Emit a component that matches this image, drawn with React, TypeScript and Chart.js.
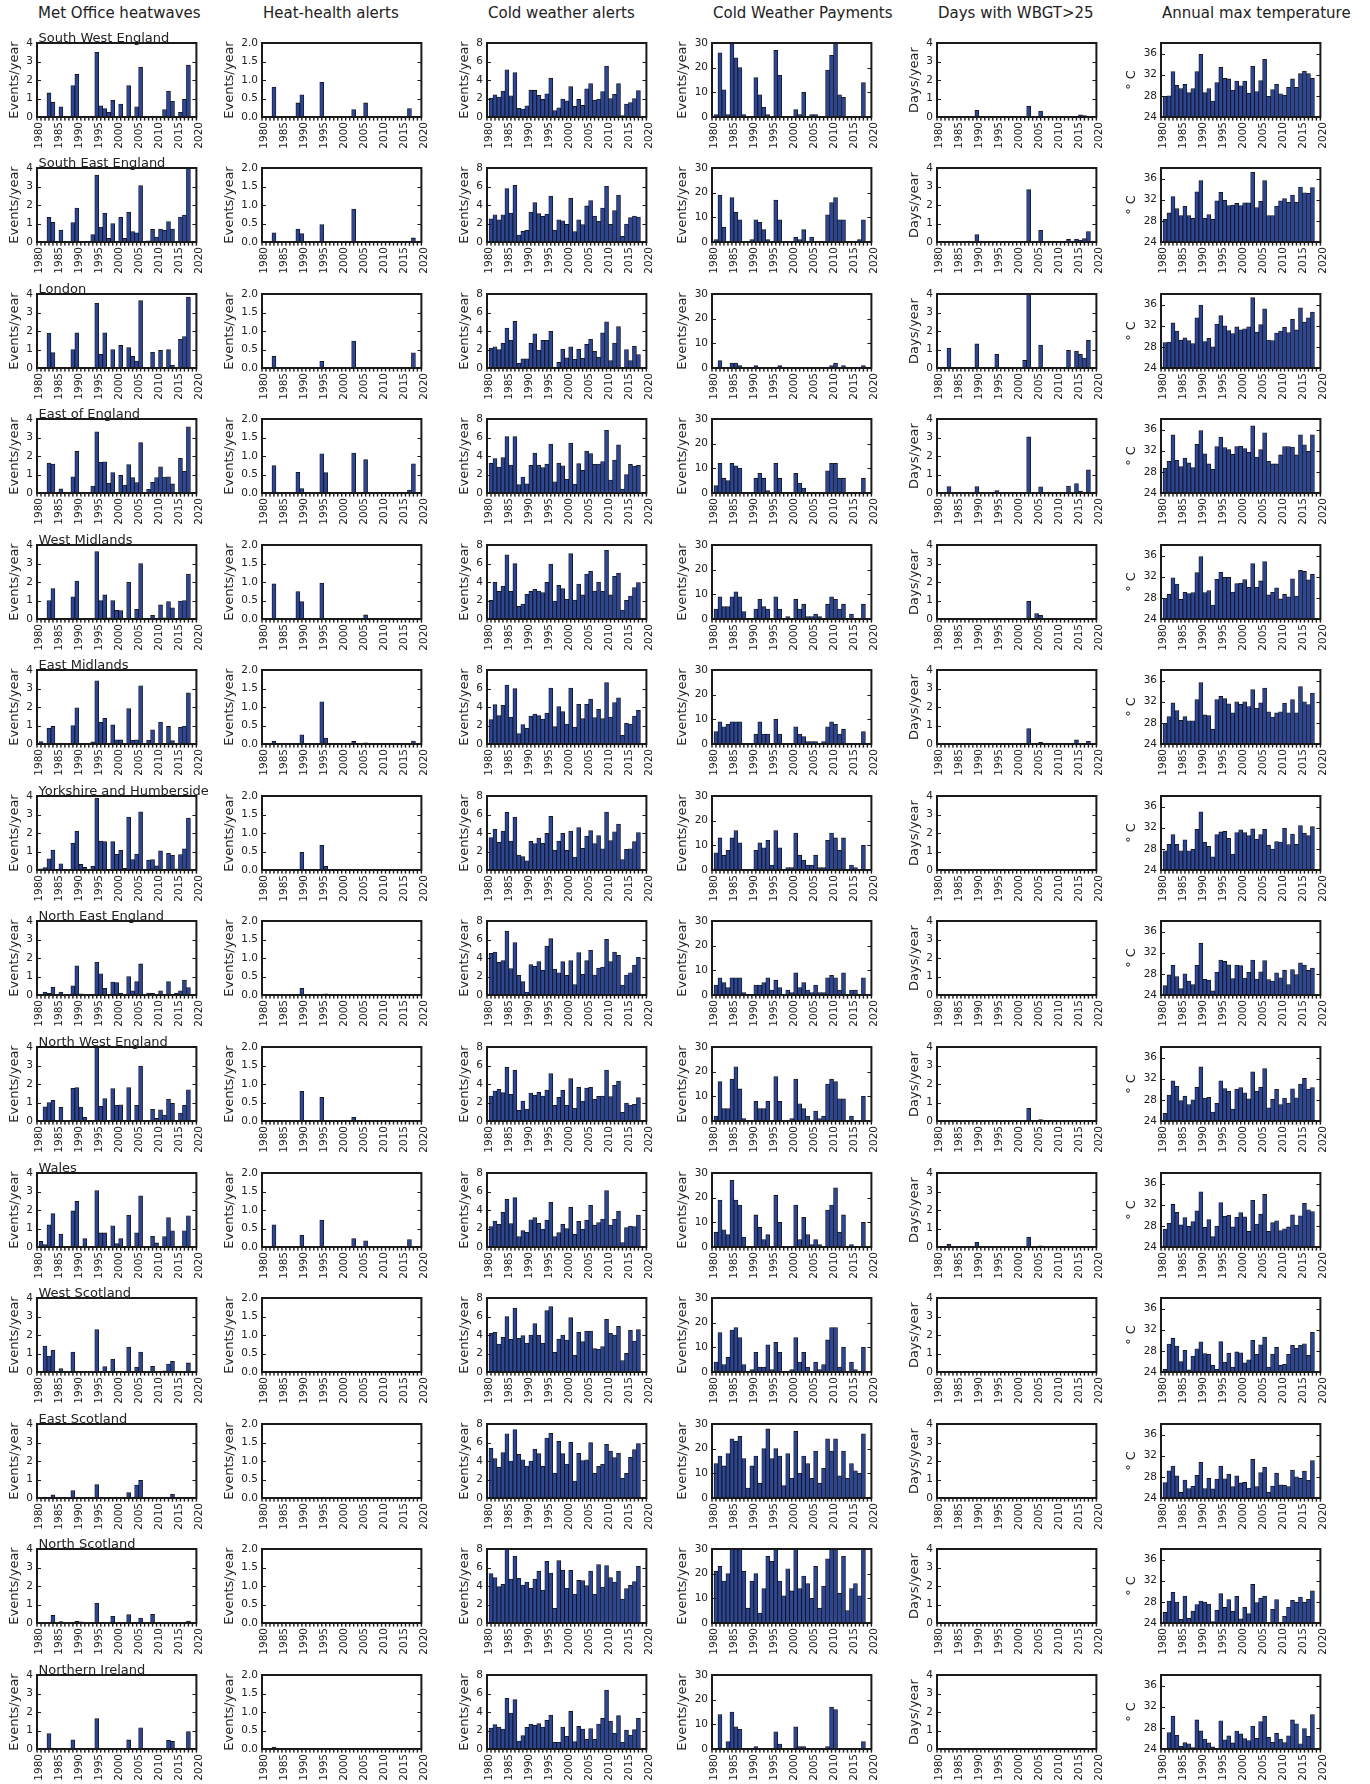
import React, { useEffect, useRef } from 'react';
import { Chart, registerables } from 'chart.js';

Chart.register(...registerables);

// ---------------- data ----------------
const years = [1981, 1982, 1983, 1984, 1985, 1986, 1987, 1988, 1989, 1990,
  1991, 1992, 1993, 1994, 1995, 1996, 1997, 1998, 1999, 2000,
  2001, 2002, 2003, 2004, 2005, 2006, 2007, 2008, 2009, 2010,
  2011, 2012, 2013, 2014, 2015, 2016, 2017, 2018];

const xTickYears = [1980, 1985, 1990, 1995, 2000, 2005, 2010, 2015, 2020];

const regions = ['South West England', 'South East England', 'London', 'East of England',
  'West Midlands', 'East Midlands', 'Yorkshire and Humberside', 'North East England',
  'North West England', 'Wales', 'West Scotland', 'East Scotland', 'North Scotland', 'Northern Ireland'];

const columnTitles = ['Met Office heatwaves', 'Heat-health alerts', 'Cold weather alerts',
  'Cold Weather Payments', 'Days with WBGT>25', 'Annual max temperature'];

const yAxisTitles = ['Events/year', 'Events/year', 'Events/year', 'Events/year', 'Days/year', '\u00b0 C'];

const yTicksHeatwaves = [0, 1, 2, 3, 4];
const yTicksHeatHealth = [0, 0.5, 1, 1.5, 2];
const yTicksColdAlerts = [0, 2, 4, 6, 8];
const yTicksPayments = [0, 10, 20, 30];
const yTicksWbgt = [0, 1, 2, 3, 4];
const yTicksMaxTemp = [24, 28, 32, 36];

const noEvents = [0, 0, 0, 0, 0, 0, 0, 0, 0, 0, 0, 0, 0, 0, 0, 0, 0, 0, 0, 0,
  0, 0, 0, 0, 0, 0, 0, 0, 0, 0, 0, 0, 0, 0, 0, 0, 0, 0];

const heatwaves = [
  [0, 0, 1.3, 0.8, 0, 0.55, 0, 0, 1.7, 2.3, 0, 0.05, 0, 0.05, 3.5, 0.6, 0.45, 0.25, 0.9, 0, 0.7, 0, 1.7, 0.05, 0.55, 2.7, 0, 0, 0.05, 0.05, 0, 0.4, 1.4, 0.85, 0, 0.25, 0.95, 2.8],
  [0, 0, 1.33, 1.06, 0, 0.65, 0, 0, 1.05, 1.84, 0, 0, 0, 0.4, 3.62, 0.81, 1.55, 0.2, 1.0, 0, 1.33, 0.2, 1.62, 0.56, 0.5, 3.05, 0, 0.07, 0.68, 0.27, 0.7, 0.63, 1.1, 0.7, 0, 1.35, 1.46, 4.0],
  [0, 0, 1.89, 0.83, 0, 0.03, 0, 0, 1.0, 1.9, 0, 0, 0, 0, 3.5, 0.74, 1.9, 0, 1.0, 0, 1.22, 0, 1.1, 0.63, 0.38, 3.64, 0, 0, 0.85, 0, 0.95, 0, 1.0, 0.16, 0, 1.55, 1.7, 3.84],
  [0, 0, 1.62, 1.57, 0, 0.23, 0, 0, 0.88, 2.25, 0.05, 0, 0, 0.38, 3.31, 1.66, 1.69, 0.54, 1.1, 0, 0.95, 0.43, 1.53, 0.83, 0.56, 2.72, 0, 0.2, 0.58, 0.83, 1.42, 0.86, 0.88, 0.49, 0.04, 1.87, 1.17, 3.58],
  [0, 0, 1.0, 1.64, 0, 0, 0, 0, 1.2, 2.05, 0, 0, 0, 0, 3.64, 0.99, 1.3, 0.07, 1.0, 0.47, 0.45, 0, 2.0, 0, 0.52, 3.0, 0, 0, 0.2, 0, 0.76, 0.07, 0.94, 0.6, 0, 0.97, 1.0, 2.43],
  [0.13, 0, 0.85, 0.95, 0, 0.05, 0, 0, 1.0, 1.96, 0.03, 0, 0, 0.12, 3.42, 1.17, 1.39, 0.05, 1.03, 0.23, 0.22, 0, 1.91, 0.2, 0.23, 3.15, 0, 0.2, 0.77, 0, 1.19, 0, 0.95, 0.18, 0, 0.9, 0.97, 2.77],
  [0.07, 0.13, 0.6, 1.08, 0, 0.34, 0, 0, 1.44, 2.1, 0.3, 0.14, 0, 0.2, 3.89, 1.57, 1.53, 0, 1.53, 0.85, 1.06, 0.09, 2.86, 0.56, 0.86, 3.15, 0, 0.54, 0.56, 0.22, 1.03, 0, 0.9, 0.79, 0.07, 0.83, 1.14, 2.81],
  [0, 0.16, 0.09, 0.43, 0, 0.16, 0, 0, 0.5, 1.58, 0.07, 0, 0, 0, 1.78, 1.15, 0.36, 0, 0.7, 0.67, 0.11, 0, 1.0, 0.23, 0.72, 1.68, 0, 0.11, 0.09, 0, 0.23, 0, 0.72, 0, 0.11, 0.23, 0.81, 0.4],
  [0, 0.77, 1.0, 1.12, 0, 0.74, 0, 0, 1.77, 1.8, 0.74, 0.2, 0, 0, 4.0, 0.79, 1.21, 0, 1.75, 0.85, 0.88, 0, 1.8, 0, 0.85, 2.97, 0, 0, 0.63, 0.14, 0.61, 0.32, 1.19, 0.95, 0, 0.43, 0.85, 1.69],
  [0.3, 0.13, 1.2, 1.8, 0, 0.7, 0, 0, 1.95, 2.47, 0.05, 0.45, 0, 0, 3.05, 0.76, 0.76, 0.05, 1.15, 0.18, 0.45, 0, 1.73, 0, 0.77, 2.77, 0, 0, 0.58, 0.22, 0, 0.56, 1.59, 0.88, 0, 0.05, 0.88, 1.69],
  [0, 1.4, 0.86, 1.17, 0, 0.18, 0, 0, 1.08, 0, 0.02, 0, 0, 0, 2.29, 0, 0.29, 0, 0.7, 0, 0, 0, 1.35, 0, 0.27, 1.08, 0, 0, 0.31, 0, 0, 0.07, 0.43, 0.58, 0, 0, 0, 0.49],
  [0, 0.05, 0, 0.17, 0, 0, 0, 0, 0.4, 0, 0, 0, 0, 0, 0.72, 0, 0, 0, 0.03, 0, 0, 0, 0.29, 0, 0.7, 0.95, 0, 0, 0.02, 0, 0, 0, 0.05, 0.2, 0, 0, 0, 0.02],
  [0, 0.02, 0.04, 0.42, 0, 0.08, 0, 0, 0.03, 0.09, 0.06, 0, 0, 0, 1.06, 0, 0, 0, 0.36, 0, 0, 0, 0.45, 0, 0, 0.27, 0, 0, 0.47, 0, 0, 0, 0, 0.02, 0, 0, 0, 0.11],
  [0, 0, 0.83, 0.05, 0, 0, 0, 0, 0.5, 0, 0, 0, 0, 0, 1.64, 0, 0, 0, 0, 0, 0, 0, 0.49, 0, 0, 1.15, 0, 0, 0, 0, 0, 0, 0.47, 0.41, 0, 0, 0, 0.94],
];

const heatHealthAlerts = [
  [0, 0, 0.81, 0, 0, 0, 0, 0, 0.38, 0.6, 0, 0, 0, 0, 0.94, 0, 0, 0, 0.01, 0, 0, 0, 0.2, 0, 0, 0.38, 0, 0, 0, 0, 0, 0, 0, 0, 0, 0, 0.23, 0],
  [0, 0, 0.25, 0, 0, 0, 0, 0, 0.35, 0.23, 0, 0, 0, 0, 0.47, 0, 0, 0, 0, 0, 0, 0, 0.89, 0, 0, 0, 0, 0, 0, 0, 0, 0, 0, 0, 0, 0, 0, 0.11],
  [0, 0, 0.32, 0, 0, 0, 0, 0, 0, 0, 0, 0, 0, 0, 0.18, 0, 0, 0, 0, 0, 0, 0, 0.73, 0, 0, 0, 0, 0, 0, 0, 0, 0, 0, 0, 0, 0, 0, 0.41],
  [0, 0, 0.74, 0, 0, 0, 0, 0, 0.56, 0.12, 0, 0, 0, 0, 1.06, 0.55, 0, 0, 0, 0, 0, 0, 1.08, 0, 0, 0.9, 0, 0, 0, 0, 0, 0.02, 0, 0, 0, 0.02, 0.08, 0.79],
  [0, 0, 0.95, 0, 0, 0, 0, 0, 0.74, 0.47, 0, 0, 0, 0, 0.97, 0, 0, 0, 0, 0, 0, 0, 0, 0, 0, 0.11, 0, 0, 0, 0, 0, 0, 0, 0, 0, 0, 0, 0],
  [0, 0, 0.08, 0, 0, 0, 0, 0, 0, 0.25, 0, 0, 0, 0, 1.14, 0.16, 0, 0, 0, 0, 0, 0, 0.07, 0, 0, 0.03, 0, 0, 0, 0, 0, 0, 0, 0, 0, 0, 0, 0.08],
  [0, 0, 0, 0, 0, 0, 0, 0, 0, 0.48, 0, 0, 0, 0, 0.67, 0.1, 0, 0, 0, 0, 0, 0, 0, 0, 0, 0, 0, 0, 0, 0, 0, 0, 0, 0, 0, 0, 0, 0],
  [0, 0, 0, 0, 0, 0, 0, 0, 0, 0.18, 0, 0, 0, 0, 0, 0.03, 0, 0, 0, 0, 0, 0, 0, 0, 0, 0, 0, 0, 0, 0, 0, 0, 0, 0, 0, 0, 0, 0],
  [0, 0, 0, 0, 0, 0, 0, 0, 0, 0.8, 0, 0, 0, 0, 0.64, 0, 0, 0, 0, 0, 0, 0, 0.1, 0, 0, 0, 0, 0, 0, 0, 0, 0, 0, 0, 0, 0, 0, 0],
  [0, 0, 0.6, 0, 0, 0, 0, 0, 0.02, 0.32, 0, 0, 0, 0, 0.73, 0, 0, 0, 0, 0, 0, 0, 0.23, 0, 0, 0.17, 0, 0, 0, 0, 0, 0, 0, 0, 0, 0, 0.2, 0],
  [0, 0, 0, 0, 0, 0, 0, 0, 0, 0, 0, 0, 0, 0, 0.01, 0, 0, 0, 0, 0, 0, 0, 0, 0, 0, 0, 0, 0, 0, 0, 0, 0, 0, 0, 0, 0, 0, 0],
  noEvents,
  noEvents,
  [0, 0, 0.05, 0, 0, 0, 0, 0, 0, 0, 0, 0, 0, 0, 0, 0, 0, 0, 0, 0, 0, 0, 0, 0, 0, 0, 0, 0, 0, 0, 0, 0, 0, 0, 0, 0, 0, 0],
];

const coldWeatherAlerts = [
  [2.05, 2.4, 2.15, 2.8, 5.1, 2.3, 4.8, 0.95, 0.85, 1.2, 2.9, 2.9, 2.35, 1.9, 2.5, 4.2, 0.7, 1.0, 1.95, 1.75, 3.3, 1.15, 1.9, 1.25, 3.05, 3.6, 1.8, 1.95, 2.75, 5.5, 2.0, 2.45, 3.6, 0.15, 1.4, 1.55, 2.0, 2.85],
  [2.5, 2.95, 2.4, 2.95, 5.77, 3.13, 6.13, 0.76, 1.15, 1.26, 3.24, 4.25, 3.06, 2.77, 3.03, 4.97, 1.3, 2.41, 2.3, 1.9, 4.76, 1.12, 2.41, 1.87, 3.9, 4.47, 2.81, 2.23, 3.68, 6.02, 1.91, 3.39, 5.08, 0.61, 1.95, 2.63, 2.81, 2.7],
  [2.16, 2.3, 1.98, 2.67, 4.32, 3.0, 5.05, 0.5, 1.0, 1.0, 2.67, 3.7, 1.95, 3.0, 3.0, 3.96, 0, 0.6, 2.05, 1.1, 2.3, 0.95, 2.05, 1.05, 2.55, 3.1, 1.8, 1.15, 3.8, 5.0, 0.8, 2.7, 4.47, 0, 2.0, 0.8, 2.35, 1.45],
  [3.2, 3.71, 2.8, 3.82, 6.09, 3.03, 6.1, 0.9, 1.73, 1.0, 3.0, 4.32, 3.03, 2.74, 3.13, 5.3, 1.22, 3.24, 2.95, 1.48, 5.4, 0.97, 3.17, 2.45, 4.54, 4.25, 3.1, 3.13, 3.39, 6.77, 1.4, 3.57, 5.2, 0.43, 1.98, 3.1, 2.88, 2.99],
  [2.02, 3.96, 2.99, 3.57, 6.95, 2.99, 5.98, 1.37, 1.62, 2.67, 2.99, 3.2, 3.03, 2.85, 3.96, 5.95, 1.95, 3.64, 3.3, 2.13, 7.06, 2.05, 3.78, 2.6, 4.86, 5.15, 3.03, 4.0, 2.99, 7.42, 2.6, 4.61, 4.94, 0.97, 2.02, 2.49, 3.39, 3.93],
  [2.63, 4.25, 3.06, 4.18, 6.38, 2.88, 5.98, 1.12, 2.09, 1.69, 3.03, 3.24, 3.06, 2.7, 3.35, 6.05, 1.87, 4.04, 3.5, 2.16, 6.05, 1.84, 4.29, 2.74, 4.29, 4.86, 2.85, 3.75, 2.74, 6.63, 2.92, 4.47, 5.0, 0.94, 2.27, 2.16, 3.03, 3.64],
  [3.5, 4.4, 3.0, 4.2, 6.23, 3.13, 5.73, 1.62, 1.44, 1.0, 3.1, 2.85, 3.46, 2.88, 3.96, 5.8, 2.16, 3.13, 3.96, 2.13, 4.2, 1.4, 4.58, 2.34, 3.68, 4.25, 2.85, 3.71, 2.3, 6.27, 3.17, 4.14, 4.97, 1.12, 2.23, 2.3, 3.06, 4.04],
  [4.5, 4.65, 3.53, 3.71, 6.92, 2.85, 5.66, 2.13, 1.44, 0.32, 3.28, 3.1, 3.6, 2.67, 5.3, 6.09, 2.81, 2.41, 3.6, 2.13, 3.71, 1.12, 4.58, 2.23, 3.71, 4.83, 2.16, 2.92, 3.03, 6.02, 3.6, 4.65, 4.29, 1.08, 2.16, 2.41, 3.24, 4.07],
  [2.7, 3.24, 3.42, 3.06, 5.8, 2.88, 5.48, 1.15, 2.16, 1.3, 3.03, 2.77, 3.1, 2.7, 3.35, 5.12, 1.69, 2.56, 3.32, 1.69, 4.58, 1.37, 3.64, 2.16, 3.57, 3.64, 2.34, 2.67, 2.7, 5.51, 2.63, 3.86, 4.32, 0.94, 1.95, 1.73, 1.8, 2.52],
  [2.2, 2.81, 2.45, 3.75, 5.15, 2.52, 5.33, 1.12, 1.77, 1.59, 2.95, 3.17, 2.56, 1.95, 2.92, 4.83, 1.12, 1.55, 2.45, 1.98, 4.29, 1.37, 2.77, 1.91, 2.92, 4.5, 2.38, 2.63, 3.03, 6.09, 2.38, 2.99, 3.89, 0.47, 2.09, 2.27, 2.2, 3.46],
  [4.18, 4.29, 3.03, 3.75, 5.98, 3.53, 6.92, 3.64, 3.93, 3.14, 4.0, 5.23, 4.0, 3.1, 6.63, 7.06, 2.13, 3.57, 4.0, 3.46, 5.87, 1.8, 4.29, 3.28, 4.43, 4.43, 2.52, 2.45, 2.74, 5.69, 4.18, 4.0, 4.94, 1.23, 2.02, 4.5, 3.35, 4.58],
  [5.37, 4.25, 3.32, 4.9, 6.95, 4.0, 7.39, 4.72, 4.14, 3.46, 4.0, 5.3, 4.79, 3.42, 6.49, 6.99, 2.7, 6.13, 4.79, 3.68, 6.02, 1.84, 4.83, 4.04, 4.14, 5.98, 2.67, 3.42, 3.64, 5.8, 5.08, 4.36, 4.83, 2.13, 2.67, 4.4, 5.23, 5.87],
  [5.33, 4.9, 3.93, 4.18, 8.2, 4.76, 7.24, 4.83, 4.11, 4.43, 3.75, 4.76, 5.62, 3.57, 6.67, 5.4, 1.59, 6.74, 5.69, 3.75, 5.69, 3.14, 4.61, 4.58, 4.04, 5.62, 3.14, 6.31, 3.89, 6.2, 4.9, 4.43, 5.62, 2.59, 3.71, 4.07, 4.47, 6.13],
  [2.27, 2.63, 2.38, 2.16, 5.48, 3.89, 5.33, 0.86, 1.44, 2.34, 2.7, 2.56, 2.74, 2.38, 3.1, 3.68, 0.72, 0.72, 2.38, 1.37, 4.07, 0.79, 2.45, 2.16, 1.05, 2.2, 1.05, 2.7, 3.32, 6.38, 3.03, 1.69, 3.6, 0.72, 2.05, 1.51, 2.09, 3.32],
];

const coldWeatherPayments = [
  [1, 26, 11, 1, 32, 24, 20, 1, 0, 0, 16, 9, 4, 1, 0, 27, 17, 0, 0, 0, 3, 1, 10, 0, 1, 1, 0, 0, 19, 25, 32, 9, 8, 0, 0, 0, 0, 14],
  [1, 19, 6, 0, 18, 12, 9, 0, 0, 1, 9, 8, 5, 1, 0, 17, 9, 0, 0, 0, 2, 1, 5, 0, 2, 0, 0, 0, 11, 16, 18, 9, 9, 0, 0, 0, 1, 9],
  [0, 3, 0, 0, 2, 2, 1, 0, 0, 0, 1, 0, 0, 0, 0, 0, 1, 0, 0, 0, 0, 0, 0, 0, 0, 0, 0, 0, 0, 1, 2, 0, 1, 0, 0, 0, 0, 1],
  [3, 12, 6, 5, 12, 11, 10, 0, 0, 0, 6, 8, 6, 1, 0, 12, 6, 0, 0, 0, 8, 4, 2, 0, 0, 0, 0, 0, 9, 12, 12, 6, 6, 0, 0, 0, 0, 6],
  [4, 9, 5, 5, 9, 11, 9, 3, 0, 0, 4, 8, 5, 4, 0, 9, 4, 0, 1, 0, 8, 4, 6, 1, 1, 2, 1, 0, 6, 9, 8, 4, 6, 0, 2, 0, 0, 6],
  [5, 9, 7, 8, 9, 9, 9, 0, 0, 0, 4, 9, 4, 4, 0, 10, 4, 0, 0, 0, 7, 4, 3, 1, 1, 1, 0, 1, 7, 9, 8, 4, 6, 0, 0, 0, 0, 5],
  [7, 13, 6, 8, 13, 16, 11, 0, 0, 0, 8, 11, 9, 12, 2, 16, 9, 0, 1, 1, 15, 6, 4, 2, 2, 6, 1, 1, 12, 15, 13, 8, 13, 0, 2, 1, 0, 10],
  [4, 7, 5, 3, 7, 7, 7, 1, 0, 0, 4, 4, 5, 7, 2, 6, 3, 0, 2, 1, 9, 3, 5, 2, 1, 4, 1, 1, 7, 8, 7, 2, 9, 0, 2, 2, 0, 7],
  [2, 16, 5, 5, 17, 22, 13, 1, 0, 0, 8, 5, 5, 8, 0, 18, 8, 0, 0, 1, 17, 7, 5, 2, 0, 4, 1, 2, 15, 17, 16, 9, 9, 0, 2, 0, 0, 10],
  [6, 19, 7, 5, 27, 19, 17, 4, 0, 0, 13, 8, 3, 5, 0, 21, 10, 0, 0, 0, 17, 3, 12, 5, 1, 3, 1, 0, 15, 17, 24, 6, 13, 0, 1, 0, 0, 10],
  [4, 16, 3, 6, 17, 18, 14, 3, 0, 1, 8, 2, 2, 11, 1, 12, 8, 0, 0, 1, 14, 4, 8, 2, 0, 4, 1, 3, 13, 18, 18, 2, 10, 0, 4, 1, 0, 10],
  [14, 17, 13, 18, 24, 23, 25, 16, 4, 13, 17, 6, 20, 28, 16, 20, 17, 5, 18, 8, 27, 10, 17, 14, 8, 19, 6, 12, 24, 19, 24, 9, 19, 8, 14, 11, 10, 26],
  [21, 23, 17, 20, 32, 31, 31, 21, 6, 17, 20, 4, 14, 27, 25, 31, 17, 11, 22, 13, 33, 14, 19, 16, 10, 23, 6, 15, 26, 31, 32, 12, 27, 5, 14, 16, 11, 31],
  [0, 14, 0, 3, 15, 9, 8, 0, 0, 0, 1, 0, 0, 0, 0, 7, 2, 0, 0, 0, 9, 1, 1, 0, 0, 0, 0, 0, 1, 17, 16, 0, 0, 0, 0, 0, 0, 3],
];

const wbgtDays = [
  [0, 0, 0, 0, 0, 0, 0, 0, 0, 0.36, 0, 0, 0, 0, 0, 0, 0, 0, 0, 0, 0, 0, 0.58, 0, 0, 0.32, 0, 0, 0, 0, 0, 0, 0, 0, 0, 0.12, 0.08, 0],
  [0, 0, 0, 0, 0, 0, 0, 0, 0, 0.4, 0, 0, 0, 0, 0, 0, 0, 0, 0, 0, 0, 0.02, 2.83, 0, 0, 0.63, 0, 0, 0, 0, 0, 0, 0.14, 0, 0.16, 0.11, 0.18, 0.56],
  [0, 0, 1.08, 0, 0, 0, 0, 0, 0.03, 1.3, 0, 0, 0, 0, 0.74, 0, 0, 0, 0, 0, 0, 0.41, 4.5, 0, 0, 1.24, 0, 0, 0, 0, 0, 0, 0.95, 0, 0.92, 0.74, 0.54, 1.5],
  [0, 0, 0.35, 0, 0, 0, 0, 0, 0, 0.35, 0, 0, 0, 0, 0.13, 0, 0, 0, 0, 0, 0.03, 0, 3.03, 0, 0, 0.33, 0, 0, 0, 0, 0.02, 0, 0.38, 0, 0.51, 0.1, 0, 1.25],
  [0, 0, 0, 0, 0, 0, 0, 0, 0, 0.03, 0, 0, 0, 0, 0, 0, 0, 0, 0, 0, 0, 0, 0.96, 0, 0.29, 0.2, 0, 0, 0, 0, 0, 0, 0, 0, 0, 0.03, 0, 0],
  [0, 0, 0, 0, 0, 0, 0, 0, 0, 0.03, 0, 0, 0, 0, 0, 0, 0, 0, 0, 0, 0.02, 0, 0.84, 0, 0, 0.09, 0, 0, 0, 0, 0, 0, 0.03, 0, 0.22, 0, 0, 0.15],
  [0, 0, 0, 0, 0, 0, 0, 0, 0, 0, 0, 0, 0, 0, 0, 0, 0, 0, 0, 0, 0, 0, 0, 0, 0, 0, 0, 0, 0, 0, 0.02, 0, 0, 0, 0, 0, 0, 0],
  noEvents,
  [0, 0, 0, 0, 0, 0, 0, 0, 0, 0.02, 0, 0, 0, 0, 0, 0, 0, 0, 0, 0, 0, 0, 0.69, 0, 0, 0.08, 0, 0, 0, 0, 0, 0, 0, 0, 0, 0, 0, 0],
  [0, 0, 0.16, 0, 0, 0, 0, 0, 0, 0.25, 0, 0, 0, 0, 0, 0, 0, 0, 0, 0, 0, 0, 0.53, 0, 0, 0.07, 0, 0, 0, 0, 0, 0, 0, 0, 0, 0.02, 0, 0],
  noEvents,
  noEvents,
  noEvents,
  noEvents,
];

const annualMaxTemp = [
  [27.9, 28.0, 32.6, 30.0, 29.4, 30.2, 28.6, 29.4, 32.6, 35.9, 28.6, 29.4, 27.0, 30.5, 33.4, 31.3, 31.2, 29.1, 30.8, 29.9, 30.8, 28.5, 33.6, 28.8, 30.9, 34.9, 27.9, 29.2, 30.2, 28.4, 28.1, 29.6, 31.2, 29.6, 32.2, 32.7, 32.2, 31.3],
  [28.3, 29.5, 32.6, 30.3, 29.0, 30.8, 29.0, 28.5, 33.5, 35.6, 28.5, 29.2, 28.3, 31.8, 33.4, 31.9, 30.9, 31.0, 31.3, 30.9, 31.4, 31.4, 37.2, 30.5, 31.7, 35.6, 29.0, 29.0, 30.8, 31.8, 32.2, 31.5, 32.9, 31.5, 34.4, 33.3, 33.2, 34.3],
  [28.8, 28.9, 32.55, 31.0, 29.3, 29.7, 29.2, 28.6, 33.5, 35.9, 29.0, 29.6, 28.0, 32.3, 33.9, 32.0, 31.1, 30.5, 31.8, 31.2, 31.4, 31.8, 37.3, 30.8, 32.2, 35.2, 29.3, 29.2, 30.6, 31.0, 31.7, 30.7, 33.2, 31.2, 35.4, 32.7, 33.5, 34.6],
  [28.7, 30.0, 35.0, 30.2, 29.0, 30.6, 29.7, 28.8, 33.2, 35.8, 31.4, 29.5, 28.5, 32.8, 34.6, 32.6, 32.2, 31.3, 32.8, 32.9, 32.4, 31.7, 36.7, 30.8, 32.2, 35.4, 30.0, 29.5, 29.5, 31.2, 32.8, 32.8, 32.7, 31.2, 35.0, 33.1, 31.9, 35.0],
  [27.9, 28.7, 31.8, 30.6, 27.7, 29.05, 28.8, 29.0, 32.8, 35.8, 29.0, 29.4, 26.65, 31.5, 32.9, 31.9, 31.9, 29.1, 30.7, 30.8, 31.45, 30.0, 34.5, 30.0, 31.2, 34.85, 28.55, 29.05, 29.9, 27.8, 28.7, 28.2, 31.6, 28.35, 33.2, 33.0, 31.4, 32.45],
  [27.9, 29.2, 31.8, 30.3, 28.5, 29.2, 28.4, 28.4, 32.4, 35.6, 29.5, 29.4, 26.8, 32.4, 33.0, 32.6, 31.6, 29.9, 32.0, 31.5, 32.0, 31.1, 34.3, 30.75, 31.8, 34.6, 30.1, 29.1, 29.9, 30.1, 31.7, 29.9, 32.4, 29.9, 34.85, 32.0, 31.45, 33.65],
  [27.65, 28.85, 30.7, 28.85, 27.65, 29.7, 27.65, 27.9, 31.7, 35.0, 29.3, 28.5, 26.5, 30.7, 31.2, 31.3, 30.0, 27.0, 31.1, 31.6, 31.1, 30.5, 31.8, 29.85, 30.7, 31.7, 28.7, 27.95, 29.4, 29.3, 31.9, 28.8, 30.8, 28.85, 32.4, 31.0, 30.5, 32.2],
  [25.8, 27.8, 29.6, 27.5, 25.2, 28.0, 26.65, 25.95, 29.6, 33.8, 26.95, 26.8, 24.8, 28.35, 30.6, 30.35, 29.7, 27.1, 29.65, 29.55, 27.2, 28.3, 30.6, 27.0, 28.4, 30.5, 26.9, 26.65, 28.2, 27.25, 28.7, 25.95, 28.8, 27.85, 30.1, 29.65, 28.65, 29.1],
  [25.45, 28.9, 31.6, 30.6, 27.85, 28.7, 27.1, 28.0, 30.4, 34.25, 28.35, 28.5, 25.7, 27.35, 31.6, 30.15, 29.6, 26.25, 30.05, 30.3, 29.35, 28.2, 33.3, 29.6, 30.4, 33.9, 26.5, 28.1, 30.0, 27.1, 28.35, 27.4, 30.1, 28.4, 31.0, 32.05, 30.05, 30.3],
  [27.4, 28.5, 32.05, 30.55, 28.2, 29.55, 27.9, 28.8, 30.85, 34.45, 27.7, 29.2, 25.95, 27.95, 32.4, 29.8, 30.05, 27.8, 29.6, 30.5, 29.7, 26.95, 32.85, 28.35, 30.25, 33.95, 26.95, 28.6, 28.95, 27.1, 27.45, 27.8, 30.1, 28.15, 29.9, 32.25, 31.05, 30.7],
  [24.5, 29.3, 30.4, 28.9, 25.95, 28.1, 24.4, 27.0, 28.4, 29.7, 27.5, 27.35, 25.25, 24.5, 29.75, 25.9, 27.6, 24.95, 27.8, 27.65, 25.75, 26.3, 30.0, 27.35, 29.15, 30.6, 24.95, 27.4, 28.65, 25.25, 25.45, 27.35, 29.05, 28.5, 29.05, 29.35, 27.15, 31.5],
  [26.9, 29.15, 30.05, 28.2, 25.05, 27.4, 25.8, 26.2, 28.3, 30.75, 25.8, 27.7, 25.75, 27.6, 30.05, 27.65, 28.5, 26.15, 28.2, 26.85, 26.95, 25.9, 31.3, 26.15, 28.8, 29.8, 25.1, 26.25, 28.7, 26.5, 26.4, 26.15, 29.3, 28.0, 27.7, 29.1, 27.35, 31.1],
  [26.0, 28.15, 29.8, 27.95, 24.7, 29.1, 24.9, 26.25, 27.5, 28.15, 27.95, 27.6, 24.25, 26.45, 29.55, 26.95, 28.45, 26.2, 29.05, 24.8, 27.0, 25.8, 31.3, 27.85, 28.7, 29.1, null, 26.6, 28.45, null, 25.25, 27.0, 28.3, 27.9, 28.9, 27.9, 28.5, 30.1],
  [null, 27.1, 30.25, 26.6, 24.5, 25.2, 25.0, 24.25, 29.5, 27.45, 25.9, 25.15, 24.4, null, 29.35, 25.75, 26.5, 25.15, 27.4, 26.85, 25.95, 25.6, 28.35, 26.0, 29.2, 30.2, 26.2, 25.25, 26.95, 25.9, 25.2, 26.5, 29.5, 28.75, 25.0, 27.85, 26.4, 30.5],
];

// ---------------- layout & style ----------------
const FAMILY = '"DejaVu Sans", "Liberation Sans", sans-serif';
const TEXT = '#222222';
const INK = '#1a1a1a';
const BAR_FILL = '#2c4595';
const BAR_EDGE = '#111111';

const PLOT_LEFTS = [37, 262, 487, 712, 937, 1161];
const PLOT_W = 161;
const PLOT_H = 74;
const ROW0 = 42.7;
const ROW_STEP = 125.54;
const AXIS_W = 50;
const PAD_TOP = 18;
const PAD_RIGHT = 16;
const X_AXIS_H = 36;
const CANVAS_W = AXIS_W + PLOT_W + PAD_RIGHT;
const CANVAS_H = PAD_TOP + PLOT_H + X_AXIS_H;
const Y_TITLE_DIST = [22, 32.3, 22.5, 29.5, 22.5, 29.3];

const intFmt = (v: number) => String(v);
const oneDecFmt = (v: number) => Number(v).toFixed(1);

const columns = [
  { data: heatwaves, min: 0, max: 4, ticks: yTicksHeatwaves, fmt: intFmt },
  { data: heatHealthAlerts, min: 0, max: 2, ticks: yTicksHeatHealth, fmt: oneDecFmt },
  { data: coldWeatherAlerts, min: 0, max: 8, ticks: yTicksColdAlerts, fmt: intFmt },
  { data: coldWeatherPayments, min: 0, max: 30, ticks: yTicksPayments, fmt: intFmt },
  { data: wbgtDays, min: 0, max: 4, ticks: yTicksWbgt, fmt: intFmt },
  { data: annualMaxTemp, min: 24, max: 38, ticks: yTicksMaxTemp, fmt: intFmt },
];

const framePlugin = {
  id: 'frame',
  afterDatasetsDraw(chart: any, _args: any, opts: any) {
    const { ctx, chartArea } = chart;
    const { left, right, top, bottom } = chartArea;
    const xs = chart.scales.x;
    const ys = chart.scales.y;
    ctx.save();
    ctx.strokeStyle = INK;
    ctx.fillStyle = INK;
    ctx.lineWidth = 1;
    ctx.beginPath();
    for (const t of ys.ticks) {
      const py = Math.round(ys.getPixelForValue(t.value)) + 0.5;
      ctx.moveTo(left, py);
      ctx.lineTo(left + 4, py);
      ctx.moveTo(right - 4, py);
      ctx.lineTo(right, py);
    }
    ctx.stroke();
    const first = xTickYears[0];
    const last = xTickYears[xTickYears.length - 1];
    for (let yr = first; yr <= last; yr++) {
      const px = xs.getPixelForValue(yr);
      ctx.fillRect(px - 0.7, bottom + 1, 1.4, 2.6);
    }
    ctx.lineWidth = 2;
    ctx.strokeRect(left, top, right - left, bottom - top);
    if (opts && opts.title) {
      ctx.font = `13px ${FAMILY}`;
      ctx.fillStyle = TEXT;
      ctx.textAlign = 'left';
      ctx.textBaseline = 'alphabetic';
      ctx.fillText(opts.title, left + 1.5, top - 1.5);
    }
    ctx.restore();
  },
};

function Panel({ row, col }: { row: number; col: number }) {
  const ref = useRef<HTMLCanvasElement>(null);
  const plotTop = Math.round(ROW0 + ROW_STEP * row);
  const left = PLOT_LEFTS[col] - AXIS_W;
  const top = plotTop - PAD_TOP;

  useEffect(() => {
    const cfg = columns[col];
    const values = cfg.data[row];
    const yW = Y_TITLE_DIST[col] + 7.8;
    const chart = new Chart(ref.current as HTMLCanvasElement, {
      type: 'bar',
      data: {
        datasets: [
          {
            data: years.map((y, i) => ({ x: y, y: values[i] })),
            backgroundColor: BAR_FILL,
            borderColor: BAR_EDGE,
            borderWidth: 0.8,
            barPercentage: 1,
            categoryPercentage: 1,
            clip: 0,
          } as any,
        ],
      },
      options: {
        responsive: false,
        animation: false,
        devicePixelRatio: 1,
        events: [],
        layout: { padding: { left: AXIS_W - yW, top: PAD_TOP, right: PAD_RIGHT, bottom: 0 } },
        plugins: {
          legend: { display: false },
          tooltip: { enabled: false },
          frame: { title: col === 0 ? regions[row] : '' },
        } as any,
        scales: {
          x: {
            type: 'linear',
            min: xTickYears[0],
            max: xTickYears[xTickYears.length - 1],
            offset: false,
            grid: { display: false, drawTicks: false },
            border: { display: false },
            afterBuildTicks: (s: any) => {
              s.ticks = xTickYears.map((v) => ({ value: v }));
            },
            afterFit: (s: any) => {
              s.height = X_AXIS_H;
            },
            ticks: {
              autoSkip: false,
              minRotation: 90,
              maxRotation: 90,
              padding: 5,
              labelOffset: 2.5,
              color: TEXT,
              font: { size: 10.5, family: FAMILY },
              callback: (v: any) => String(v),
            },
          },
          y: {
            type: 'linear',
            min: cfg.min,
            max: cfg.max,
            beginAtZero: cfg.min === 0,
            grid: { display: false, drawTicks: false },
            border: { display: false },
            afterBuildTicks: (s: any) => {
              s.ticks = cfg.ticks.map((v) => ({ value: v }));
            },
            afterFit: (s: any) => {
              s.width = yW;
            },
            ticks: {
              autoSkip: false,
              padding: 4,
              color: TEXT,
              font: { size: 10.5, family: FAMILY },
              callback: (v: any) => cfg.fmt(v),
            },
            title: {
              display: true,
              text: yAxisTitles[col],
              color: TEXT,
              padding: 0,
              font: { size: 13, family: FAMILY },
            },
          },
        } as any,
      },
      plugins: [framePlugin as any],
    });
    return () => chart.destroy();
  }, [row, col]);

  return (
    <canvas
      ref={ref}
      width={CANVAS_W}
      height={CANVAS_H}
      style={{ position: 'absolute', left, top, width: CANVAS_W, height: CANVAS_H }}
    />
  );
}

export default function App() {
  return (
    <div style={{ position: 'absolute', left: 0, top: 0, width: 1370, height: 1784, background: '#ffffff', overflow: 'hidden' }}>
      {columnTitles.map((t, c) => (
        <div
          key={t}
          style={{
            position: 'absolute',
            left: PLOT_LEFTS[c] + 1,
            top: 6,
            fontFamily: FAMILY,
            fontSize: 15,
            lineHeight: '15px',
            color: TEXT,
            whiteSpace: 'nowrap',
          }}
        >
          {t}
        </div>
      ))}
      {regions.map((_, r) => columns.map((__, c) => <Panel key={`${r}-${c}`} row={r} col={c} />))}
    </div>
  );
}
